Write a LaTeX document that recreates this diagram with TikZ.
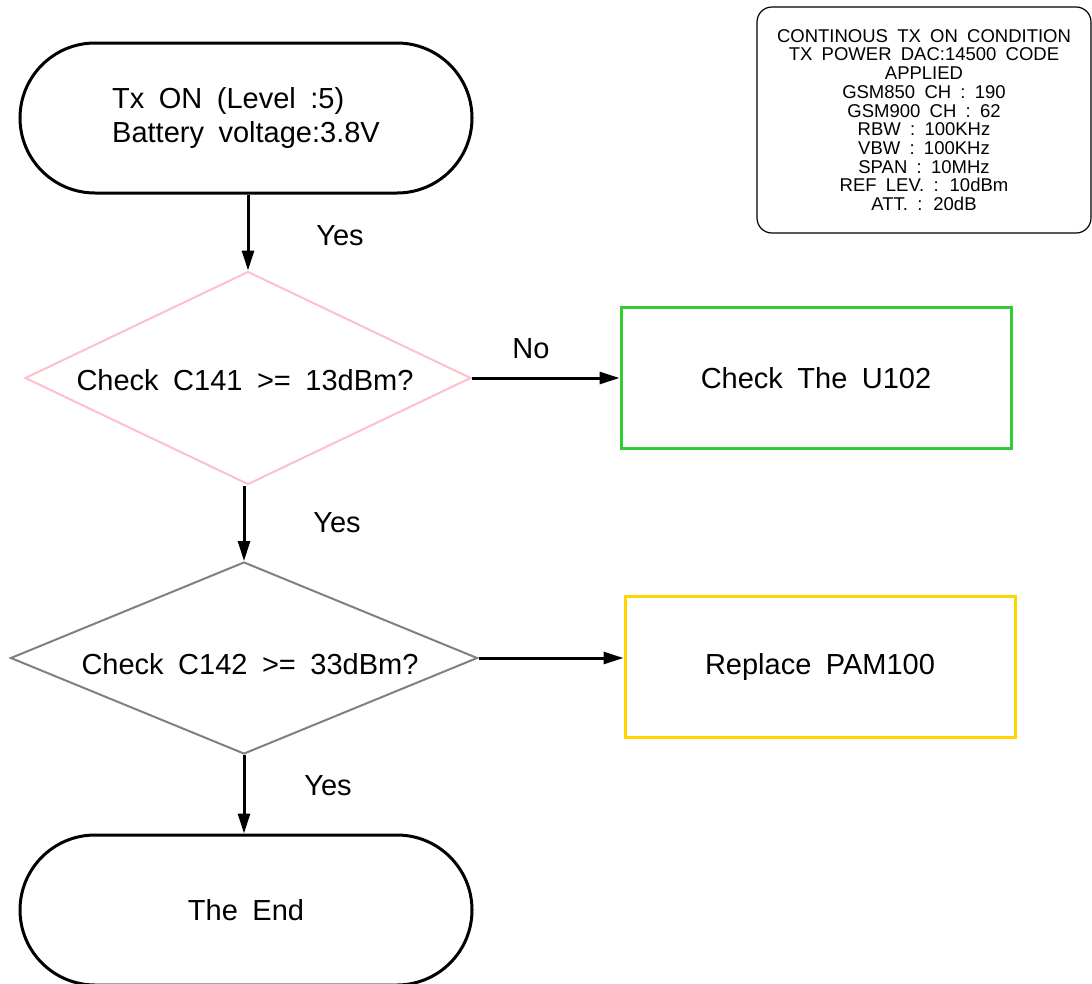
\documentclass[tikz,border=0pt]{standalone}
\usepackage{fontspec}
\setmainfont[WordSpace=1.8]{Liberation Sans}
\usetikzlibrary{shapes.geometric,arrows.meta}
\definecolor{pinkline}{RGB}{255,192,203}
\definecolor{grayline}{RGB}{128,128,128}
\definecolor{greenline}{RGB}{51,204,51}
\definecolor{yellowline}{RGB}{255,215,0}
\tikzset{
  terminal/.style={draw=black, line width=3pt, rectangle, rounded corners=75pt,
    minimum width=452pt, minimum height=150pt, inner sep=0pt,
    font=\fontsize{29}{34}\selectfont},
  decision/.style={diamond, aspect=2.4, inner sep=0pt, line width=2pt,
    font=\fontsize{29}{34}\selectfont},
  actionbox/.style={rectangle, line width=3pt, minimum width=390pt,
    minimum height=141pt, font=\fontsize{29}{34}\selectfont},
  flow/.style={line width=3pt, -{Triangle[length=20pt,width=12pt]}},
  caption/.style={font=\fontsize{29}{34}\selectfont},
  notebox/.style={draw=black, line width=1.2pt, rounded corners=15pt,
    minimum width=334pt, minimum height=226pt, align=center,
    font=\fontsize{18.5}{18.7}\selectfont}
}
\begin{document}
\begin{tikzpicture}[x=1pt, y=-1pt]
\useasboundingbox (0,0) rectangle (1092,983);

% test conditions
\node[notebox] (cond) at (924,120) {CONTINOUS TX ON CONDITION\\
TX POWER DAC:14500 CODE\\ APPLIED\\ GSM850 CH : 190\\ GSM900 CH : 62\\
RBW : 100KHz\\ VBW : 100KHz\\ SPAN : 10MHz\\ REF LEV. : 10dBm\\ ATT. : 20dB};

% flow chart
\node[terminal, align=left] (start) at (246,118) {Tx ON (Level :5)\\Battery voltage:3.8V};
\node[decision, draw=pinkline, minimum width=446pt, minimum height=213pt]
  (d1) at (248,378) {\smash{\raisebox{-12pt}{\hspace{-6pt}Check C141 >= 13dBm?}}};
\node[decision, draw=grayline, minimum width=467pt, minimum height=192pt]
  (d2) at (244,658) {\smash{\raisebox{-16pt}{\hspace{12pt}Check C142 >= 33dBm?}}};
\node[terminal] (finish) at (246,910) {The End};

\node[actionbox, draw=greenline] (u102) at (816,378) {Check The U102};
\node[actionbox, draw=yellowline] (pam) at (820,667) {Replace PAM100};

\draw[flow] (d1.north |- start.south) -- (d1.north);
\draw[flow] (d2.north |- d1.south) -- (d2.north);
\draw[flow] (d2.south) -- (d2.south |- finish.north);
\draw[flow] (d1.east) -- (u102.west);
\draw[flow] (d2.east) -- (pam.west |- d2.east);

% branch labels
\node[caption] (y1) at (340,236) {Yes};
\node[caption] (y2) at (337,523) {Yes};
\node[caption] (y3) at (328,786) {Yes};
\node[caption] (n1) at (531,349) {No};
\end{tikzpicture}
\end{document}
